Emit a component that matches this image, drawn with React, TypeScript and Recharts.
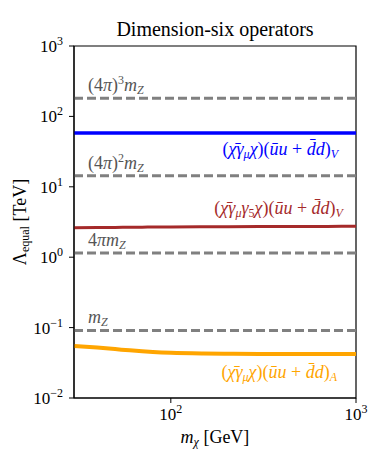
import React from 'react';
import { ComposedChart, Line, XAxis, YAxis, ReferenceLine, ReferenceDot, ReferenceArea } from 'recharts';

// dark matter mass m_chi [GeV]
const masses = [30, 40, 50, 60, 70, 80, 100, 150, 200, 300, 500, 700, 1000];
// Lambda_equal [TeV] for each operator
const vectorV = [58, 58, 58, 58, 58, 58, 58, 58, 58, 58, 58, 58, 58];
const axialV = [2.62, 2.64, 2.65, 2.66, 2.67, 2.68, 2.69, 2.7, 2.71, 2.72, 2.73, 2.74, 2.75];
const vectorA = [0.055, 0.052, 0.0495, 0.0475, 0.046, 0.045, 0.0438, 0.0428, 0.0425, 0.0423, 0.0422, 0.0421, 0.0421];

// reference scales in units of m_Z [TeV]
const scaleHasParen = [true, true, false, false];
const scaleHasPi = [true, true, true, false];
const scalePower = ['3', '2', '', ''];
const scaleValues = [180.9, 14.4, 1.146, 0.0912];

const yTicks = [0.01, 0.1, 1, 10, 100, 1000];
const yExp = ['−2', '−1', '0', '1', '2', '3'];
const yMinor = [
  0.02, 0.03, 0.04, 0.05, 0.06, 0.07, 0.08, 0.09,
  0.2, 0.3, 0.4, 0.5, 0.6, 0.7, 0.8, 0.9,
  2, 3, 4, 5, 6, 7, 8, 9,
  20, 30, 40, 50, 60, 70, 80, 90,
  200, 300, 400, 500, 600, 700, 800, 900,
];
const xTicks = [100, 1000];
const xExp = ['2', '3'];
const xMinor = [30, 40, 50, 60, 70, 80, 90, 200, 300, 400, 500, 600, 700, 800, 900];

// operator label anchors (right end, baseline) in data coordinates
const labelX = [800, 850, 790];
const labelY = [28.5, 4.1, 0.0192];
const labelColors = ['#0000ff', '#a52a2a', '#ffa500'];

const rows = masses.map((m, i) => ({ mass: m, vV: vectorV[i], aV: axialV[i], vA: vectorA[i] }));

const serif = { fontFamily: 'Liberation Serif' };

const XTick = (props: any) => {
  const { x, y, payload } = props;
  const i = xTicks.indexOf(payload.value);
  return (
    <text x={x} y={y + 15} textAnchor="middle" style={serif} fontSize={17} fill="#000">
      10<tspan dy={-7} fontSize={12}>{xExp[i]}</tspan>
    </text>
  );
};

const YTick = (props: any) => {
  const { x, y, payload } = props;
  const i = yTicks.findIndex((t) => Math.abs(t - payload.value) / t < 1e-6);
  return (
    <text x={x - 4} y={y + 6} textAnchor="end" style={serif} fontSize={17} fill="#000">
      10<tspan dy={-7} fontSize={12}>{yExp[i]}</tspan>
    </text>
  );
};

const scaleLabel = (i: number) => (props: any) => {
  const { viewBox } = props;
  return (
    <text x={viewBox.x + 14} y={viewBox.y - 7} style={serif} fontSize={18} fill="#555">
      {scaleHasParen[i] ? '(' : ''}
      {scaleHasPi[i] ? '4' : ''}
      {scaleHasPi[i] ? <tspan fontStyle="italic">π</tspan> : null}
      {scaleHasParen[i] ? ')' : ''}
      {scalePower[i] ? <tspan dy={-7} fontSize={12}>{scalePower[i]}</tspan> : null}
      <tspan dy={scalePower[i] ? 7 : 0} fontStyle="italic">m</tspan>
      <tspan dy={3} fontSize={12} fontStyle="italic">Z</tspan>
    </text>
  );
};

const opLabel = (i: number) => (props: any) => {
  const { viewBox } = props;
  const sub = i === 2 ? 'A' : 'V';
  return (
    <text x={viewBox.x} y={viewBox.y} textAnchor="end" style={serif} fontSize={18} fill={labelColors[i]}>
      (<tspan fontStyle="italic">χ̄γ</tspan>
      <tspan dy={3} fontSize={12} fontStyle="italic">μ</tspan>
      {i === 1 ? (
        <>
          <tspan dy={-3} fontStyle="italic">γ</tspan>
          <tspan dy={3} fontSize={12}>5</tspan>
        </>
      ) : null}
      <tspan dy={-3} fontStyle="italic">χ</tspan>)(<tspan fontStyle="italic">ūu</tspan> + <tspan fontStyle="italic">d̄d</tspan>)
      <tspan dy={3} fontSize={12} fontStyle="italic">{sub}</tspan>
    </text>
  );
};

const XTitle = (props: any) => {
  const { viewBox } = props;
  return (
    <text x={viewBox.x + viewBox.width / 2} y={viewBox.y + 45} textAnchor="middle" style={serif} fontSize={18} fill="#000">
      <tspan fontStyle="italic">m</tspan>
      <tspan dy={3} fontSize={12} fontStyle="italic">χ</tspan>
      <tspan dy={-3}> [GeV]</tspan>
    </text>
  );
};

const YTitle = (props: any) => {
  const { viewBox } = props;
  const cy = viewBox.y + viewBox.height / 2;
  return (
    <text x={26} y={cy} transform={`rotate(-90, 26, ${cy})`} textAnchor="middle" style={serif} fontSize={18} fill="#000">
      Λ<tspan dy={3} fontSize={12}>equal</tspan>
      <tspan dy={-3}> [TeV]</tspan>
    </text>
  );
};

const Title = (props: any) => {
  const { viewBox } = props;
  return (
    <text x={viewBox.x + viewBox.width / 2} y={viewBox.y - 10} textAnchor="middle" style={serif} fontSize={20} fill="#000">
      Dimension-six operators
    </text>
  );
};

export default function App() {
  return (
    <div style={{ position: 'absolute', left: 0, top: 0, width: 374, height: 468, background: '#fff' }}>
      <ComposedChart width={374} height={468} data={rows} margin={{ top: 46, right: 18, bottom: 30, left: 14 }}>
        <XAxis
          xAxisId="main"
          dataKey="mass"
          type="number"
          scale="log"
          domain={[30, 1000]}
          allowDataOverflow
          ticks={xTicks}
          tick={XTick}
          tickSize={5}
          height={40}
          stroke="#000"
          label={{ content: XTitle }}
        />
        <XAxis
          xAxisId="minor"
          dataKey="mass"
          type="number"
          scale="log"
          domain={[30, 1000]}
          allowDataOverflow
          ticks={xMinor}
          tick={false}
          tickSize={3}
          axisLine={false}
          stroke="#000"
          height={0}
        />
        <YAxis
          yAxisId="main"
          type="number"
          scale="log"
          domain={[0.01, 1000]}
          allowDataOverflow
          ticks={yTicks}
          tick={YTick}
          tickSize={5}
          width={60}
          stroke="#000"
          label={{ content: YTitle }}
        />
        <YAxis
          yAxisId="minor"
          type="number"
          scale="log"
          domain={[0.01, 1000]}
          allowDataOverflow
          ticks={yMinor}
          tick={false}
          tickSize={3}
          axisLine={false}
          stroke="#000"
          width={0}
        />
        {scaleValues.map((v, i) => (
          <ReferenceLine
            key={i}
            xAxisId="main"
            yAxisId="main"
            y={v}
            stroke="#808080"
            strokeWidth={3}
            strokeDasharray="9 4"
            label={{ content: scaleLabel(i) }}
          />
        ))}
        <Line xAxisId="main" yAxisId="main" type="monotone" dataKey="vV" stroke="#0000ff" strokeWidth={3.5} dot={false} isAnimationActive={false} />
        <Line xAxisId="main" yAxisId="main" type="monotone" dataKey="aV" stroke="#a52a2a" strokeWidth={3} dot={false} isAnimationActive={false} />
        <Line xAxisId="main" yAxisId="main" type="monotone" dataKey="vA" stroke="#ffa500" strokeWidth={4} dot={false} isAnimationActive={false} />
        {labelX.map((lx, i) => (
          <ReferenceDot
            key={i}
            xAxisId="main"
            yAxisId="main"
            x={lx}
            y={labelY[i]}
            r={0}
            stroke="none"
            fill="none"
            label={{ content: opLabel(i) }}
          />
        ))}
        <ReferenceArea
          xAxisId="main"
          yAxisId="main"
          x1={30}
          x2={1000}
          y1={0.01}
          y2={1000}
          fill="none"
          fillOpacity={0}
          stroke="#000"
          strokeWidth={1.2}
          label={{ content: Title }}
        />
      </ComposedChart>
    </div>
  );
}
